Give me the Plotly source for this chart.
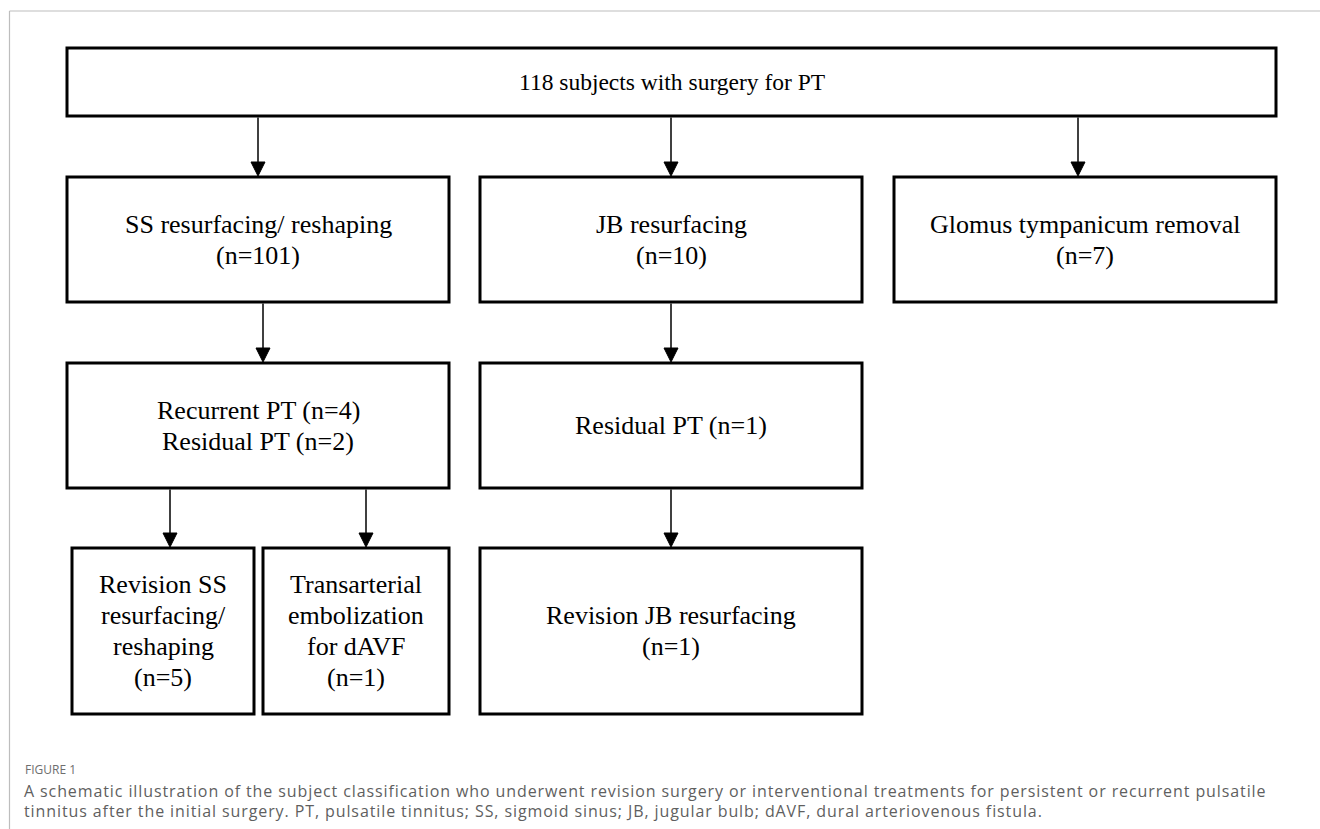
import plotly.graph_objects as go

# ---- data ----
node_ids = ["all", "ss", "jb", "glomus", "ss_res", "jb_res", "ss_rev", "tae", "jb_rev"]
node_lines = [
    ["118 subjects with surgery for PT"],
    ["SS resurfacing/ reshaping"],
    ["JB resurfacing"],
    ["Glomus tympanicum removal"],
    ["Recurrent PT (n=4)", "Residual PT (n=2)"],
    ["Residual PT (n=1)"],
    ["Revision SS", "resurfacing/", "reshaping"],
    ["Transarterial", "embolization", "for dAVF"],
    ["Revision JB resurfacing"],
]
node_counts = [None, 101, 10, 7, None, None, 5, 1, 1]
edges = [("all", "ss"), ("all", "jb"), ("all", "glomus"),
         ("ss", "ss_res"), ("jb", "jb_res"),
         ("ss_res", "ss_rev"), ("ss_res", "tae"), ("jb_res", "jb_rev")]
caption_label = "FIGURE 1"
caption_lines = [
    "A schematic illustration of the subject classification who underwent revision surgery or interventional treatments for persistent or recurrent pulsatile",
    "tinnitus after the initial surgery. PT, pulsatile tinnitus; SS, sigmoid sinus; JB, jugular bulb; dAVF, dural arteriovenous fistula.",
]

# ---- layout (pixel geometry of boxes: x0, x1, y0, y1) ----
box_geom = {
    "all": (67, 1276, 48, 116),
    "ss": (67, 449, 177, 302),
    "jb": (480, 862, 177, 302),
    "glomus": (894, 1276, 177, 302),
    "ss_res": (67, 449, 363, 488),
    "jb_res": (480, 862, 363, 488),
    "ss_rev": (72, 254, 548, 714),
    "tae": (263, 449, 548, 714),
    "jb_rev": (480, 862, 548, 714),
}
box_font_size = {"all": 23.5}
arrow_x = {
    ("all", "ss"): 258, ("all", "jb"): 671, ("all", "glomus"): 1078,
    ("ss", "ss_res"): 263, ("jb", "jb_res"): 671,
    ("ss_res", "ss_rev"): 170, ("ss_res", "tae"): 366, ("jb_res", "jb_rev"): 671,
}
LINE_STEP = 31

W, H = 1320, 829
fig = go.Figure()
fig.add_trace(go.Scatter(x=[0], y=[0], mode="markers", marker=dict(opacity=0), hoverinfo="skip", showlegend=False))

shapes = []
annotations = []

# outer frame (top and left edges)
shapes.append(dict(type="line", xref="x", yref="y", x0=9.5, y0=11, x1=W + 5, y1=11,
                   line=dict(color="#bdbdbd", width=1.2)))
shapes.append(dict(type="line", xref="x", yref="y", x0=9.5, y0=11, x1=9.5, y1=H + 5,
                   line=dict(color="#bdbdbd", width=1.2)))

for nid, lines, cnt in zip(node_ids, node_lines, node_counts):
    x0, x1, y0, y1 = box_geom[nid]
    shapes.append(dict(type="rect", xref="x", yref="y", x0=x0, x1=x1, y0=y0, y1=y1,
                       line=dict(color="black", width=3), fillcolor="white", layer="below"))
    all_lines = list(lines) + ([] if cnt is None else [f"(n={cnt})"])
    k = len(all_lines)
    cy = (y0 + y1) / 2
    for i, t in enumerate(all_lines):
        ly = cy + (i - (k - 1) / 2) * LINE_STEP
        annotations.append(dict(x=(x0 + x1) / 2, y=ly, xref="x", yref="y",
                                text=t, showarrow=False, align="center",
                                xanchor="center", yanchor="middle",
                                font=dict(family="Liberation Serif", size=box_font_size.get(nid, 26),
                                          color="black")))

for (a, b) in edges:
    x = arrow_x[(a, b)]
    ytop = box_geom[a][3]
    ybot = box_geom[b][2]
    shapes.append(dict(type="line", xref="x", yref="y", x0=x, x1=x, y0=ytop + 1.5, y1=ybot - 12,
                       line=dict(color="black", width=1.5)))
    shapes.append(dict(type="path", xref="x", yref="y",
                       path=f"M {x-7},{ybot-15} L {x+7},{ybot-15} L {x},{ybot-1} Z",
                       fillcolor="black", line=dict(color="black", width=1)))

annotations.append(dict(x=23, y=769, xref="x", yref="y", xanchor="left", yanchor="middle",
                        text=caption_label, showarrow=False,
                        font=dict(family="Open Sans", size=12, color="#6e6e6e")))
for i, t in enumerate(caption_lines):
    annotations.append(dict(x=22, y=791 + 20 * i, xref="x", yref="y", xanchor="left", yanchor="middle",
                            text=t, showarrow=False, align="left",
                            font=dict(family="Open Sans", size=16, color="#5f5f5f")))

fig.update_layout(
    width=W, height=H, margin=dict(l=0, r=0, t=0, b=0),
    paper_bgcolor="white", plot_bgcolor="white",
    xaxis=dict(range=[0, W], visible=False, fixedrange=True),
    yaxis=dict(range=[H, 0], visible=False, fixedrange=True),
    shapes=shapes, annotations=annotations, showlegend=False,
)
post = (
    "document.body.style.margin='0';document.body.style.padding='0';document.body.style.overflow='hidden';"
    "document.querySelectorAll('.annotation-text').forEach(function(e){"
    "var t=e.textContent||'';"
    "if(t.indexOf('A schematic')===0||t.indexOf('tinnitus after')===0){e.style.letterSpacing='0.9px';}});"
)
fig.write_html("out.html", config={"displayModeBar": False}, post_script=post)
